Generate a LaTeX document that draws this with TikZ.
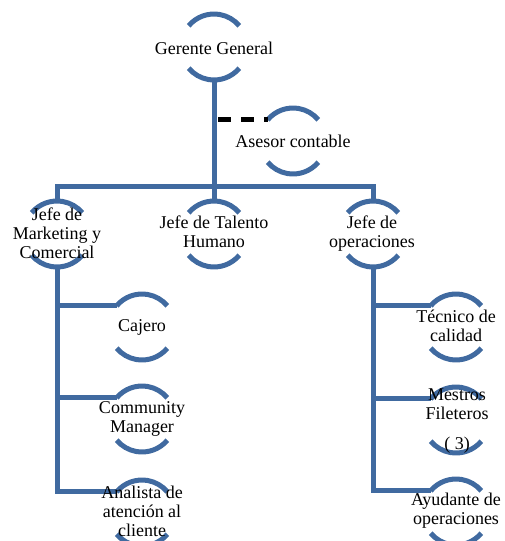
\documentclass[tikz,border=0pt]{standalone}
\usepackage{fontspec}
\setmainfont{Liberation Serif}
\usetikzlibrary{calc}
\definecolor{arcblue}{RGB}{64,106,160}
\tikzset{
 conn/.style={draw=arcblue, line width=5pt, line join=miter},
 arcline/.style={draw=arcblue, line width=5pt},
 lbl/.style={align=center, font=\fontsize{18}{19}\selectfont, inner sep=0pt, text=black},
 dashconn/.style={draw=black, line width=5pt, dash pattern=on 13pt off 10pt},
}
\newcommand\arcpair[3]{%
 \coordinate (#1) at (#2,#3);
 \draw[arcline] ($(#1)+(-140:33)$) arc[start angle=-140,end angle=-40,radius=33];
 \draw[arcline] ($(#1)+(40:33)$) arc[start angle=40,end angle=140,radius=33];
 \coordinate (#1-top) at ($(#1)+(0,-33)$);
 \coordinate (#1-bot) at ($(#1)+(0,33)$);
 \coordinate (#1-tl) at ($(#1)+(-140:33)$);
}
\begin{document}
\begin{tikzpicture}[x=1pt,y=-1pt]
\useasboundingbox (0,0) rectangle (505,541);
\clip (0,0) rectangle (505,541);
\arcpair{gg}{214}{47}
\arcpair{as}{293}{141}
\arcpair{mk}{57}{234}
\arcpair{jt}{214}{234}
\arcpair{op}{373}{234}
\arcpair{ca}{142}{327}
\arcpair{cm}{142}{419}
\arcpair{an}{142}{513}
\arcpair{tc}{456}{327}
\arcpair{mf}{456}{420}
\arcpair{ay}{456}{512}
% dashed link
\coordinate (dj) at ($(gg-bot |- as-tl)+(4,0)$);
\draw[dashconn] (dj) -- (as-tl);
% main connectors
\coordinate (bar) at (214,186);
\draw[conn] (gg-bot) -- (jt-top);
\draw[conn] (mk-top) |- (bar) -| (op-top);
\draw[conn] (mk-bot) |- (ca-tl);
\draw[conn] (mk-bot) |- (cm-tl);
\draw[conn] (mk-bot) |- (an-tl);
\draw[conn] (op-bot) |- (tc-tl);
\draw[conn] (op-bot) |- (mf-tl);
\draw[conn] (op-bot) |- (ay-tl);
% labels
\node[lbl] (gg-t) at (214,48) {Gerente General};
\node[lbl] (as-t) at (293,141) {Asesor contable};
\node[lbl] (mk-t) at (57,233) {Jefe de\\Marketing y\\Comercial};
\node[lbl] (jt-t) at (214,232) {Jefe de Talento\\Humano};
\node[lbl] (op-t) at (372,234) {Jefe de\\operaciones};
\node[lbl] (ca-t) at (142,327) {Cajero};
\node[lbl] (cm-t) at (142,419) {Community\\Manager};
\node[lbl] (an-t) at (142,511) {Analista de\\atención al\\cliente};
\node[lbl] (tc-t) at (456,326) {Técnico de\\calidad};
\node[lbl] (mf-t) at (457,421) {Mestros\\Fileteros\\[11pt]( 3)};
\node[lbl] (ay-t) at (456,511) {Ayudante de\\operaciones};
\end{tikzpicture}
\end{document}
